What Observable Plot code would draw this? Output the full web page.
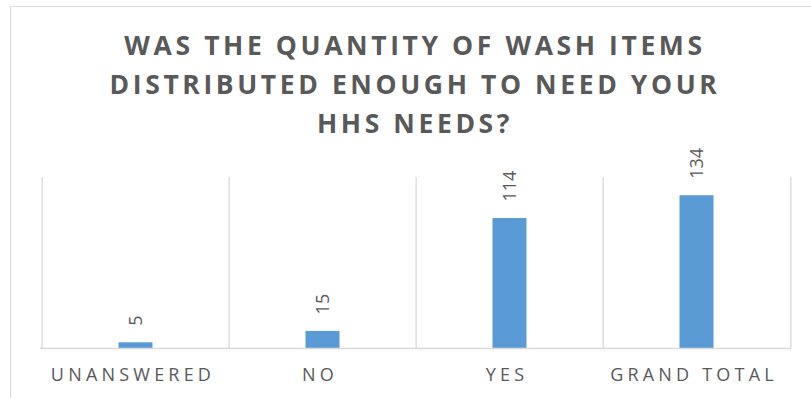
<!DOCTYPE html>
<html>
<head>
<meta charset="utf-8">
<script src="https://cdn.jsdelivr.net/npm/d3@7"></script>
<script src="https://cdn.jsdelivr.net/npm/@observablehq/plot@0.6"></script>
<style>
  html, body { margin: 0; padding: 0; background: #fff; }
  #page { position: relative; width: 811px; height: 398px; overflow: hidden; font-family: "Open Sans", sans-serif; }
  #frame { position: absolute; left: 10px; top: 6px; width: 900px; height: 500px; border-left: 1px solid #d9d9d9; border-top: 1px solid #d9d9d9; }
  #title { position: absolute; left: 0; top: 26px; width: 830px; text-align: center; font-weight: 700; font-size: 26.5px; line-height: 39px; letter-spacing: 3.6px; color: #595959; white-space: nowrap; }
  #chart { position: absolute; left: 0; top: 150px; }
</style>
</head>
<body>
<div id="page">
  <div id="frame"></div>
  <div id="title">WAS THE QUANTITY OF WASH ITEMS<br>DISTRIBUTED ENOUGH TO NEED YOUR<br>HHS NEEDS?</div>
  <div id="chart"></div>
</div>
<script>
const categories = ["UNANSWERED", "NO", "YES", "GRAND TOTAL"];
const counts = [5, 15, 114, 134];
const yMax = 150;

const data = categories.map((c, i) => ({category: c, count: counts[i]}));

const W = 811, H = 248, mL = 40, mR = 20, mT = 27, mB = 50;
const bw = (W - mL - mR) / categories.length;

const plot = Plot.plot({
  width: W,
  height: H,
  marginLeft: mL,
  marginRight: mR,
  marginTop: mT,
  marginBottom: mB,
  style: {fontFamily: "'Open Sans', sans-serif", background: "transparent", overflow: "visible"},
  x: {type: "band", domain: categories, padding: 0, label: null},
  y: {domain: [0, yMax], axis: null},
  marks: [
    Plot.ruleX(categories, {x: d => d, dx: -bw / 2, y1: 0, y2: yMax, stroke: "#d9d9d9", strokeWidth: 1.3}),
    Plot.ruleX([categories[categories.length - 1]], {x: d => d, dx: bw / 2, y1: 0, y2: yMax, stroke: "#d9d9d9", strokeWidth: 1.3}),
    Plot.barY(data, {x: "category", y: "count", fill: "#5b9bd5", insetLeft: 76.5, insetRight: 76.5}),
    Plot.ruleY([0], {stroke: "#d9d9d9", strokeWidth: 1.5}),
    Plot.text(data, {x: "category", y: "count", text: d => String(d.count), rotate: -90, textAnchor: "start", dy: -17, fontSize: 18, fill: "#595959"}),
    Plot.axisX({tickSize: 0, tickPadding: 20, fontSize: 18, color: "#595959", label: null, dx: -3})
  ]
});

d3.select(plot).selectAll('[aria-label="x-axis tick label"] text').style("letter-spacing", "4.2px");
document.getElementById("chart").appendChild(plot);
</script>
</body>
</html>
